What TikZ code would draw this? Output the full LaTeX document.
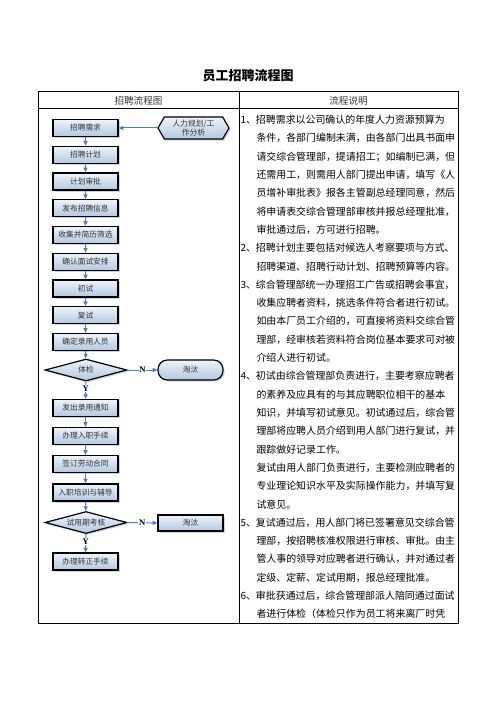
\documentclass[tikz,border=0pt]{standalone}
\usepackage{fontspec}
\setmainfont{Noto Sans CJK SC}
\newfontfamily\ynfont{Liberation Serif}
\usetikzlibrary{shapes.geometric,shapes.symbols,shadows,arrows.meta}
\XeTeXlinebreaklocale "zh"
\XeTeXlinebreakskip=0pt plus 1pt

\definecolor{boxtop}{HTML}{EEF3FA}
\definecolor{boxbot}{HTML}{B3C7E2}
\definecolor{boxshade}{HTML}{C5D0DF}
\definecolor{flowblue}{HTML}{4A7EC6}
\definecolor{txtgray}{HTML}{333333}

\newcommand\spreadline[1]{\makebox[149pt][s]{#1}}

\tikzset{every picture/.style={line width=0.75pt}}
\tikzset{
  flowbox/.style={draw=black, line width=0.9pt, top color=boxtop, bottom color=boxbot,
    minimum width=48.75pt, minimum height=12.75pt, inner sep=0pt, text=txtgray,
    font=\fontsize{5.8pt}{7pt}\selectfont,
    drop shadow={shadow xshift=1.2pt, shadow yshift=-1.2pt, fill=boxshade, opacity=0.9}},
  checkbox/.style={flowbox, shape=diamond, aspect=3.7, minimum width=61.5pt, minimum height=16.5pt},
  hrbox/.style={flowbox, shape=signal, signal to=west and east, signal pointer angle=120,
    minimum width=53.25pt, minimum height=16.5pt, align=center, font=\fontsize{5.8pt}{6.8pt}\selectfont},
  flowarrow/.style={draw=flowblue, line width=0.75pt, -{Triangle[length=3.5pt,width=3pt]}},
  yn/.style={fill=white, inner sep=0.6pt, font=\fontsize{6.5pt}{7pt}\ynfont\bfseries},
  head/.style={font=\fontsize{7.2pt}{9pt}\selectfont, text=txtgray},
  desc/.style={anchor=west, inner sep=0pt, font=\fontsize{7.45pt}{9pt}\selectfont}
}

\begin{document}
\begin{tikzpicture}[x=0.75pt,y=0.75pt,yscale=-1,xscale=1]
\useasboundingbox (0,0) rectangle (496,702);

% Title
\node (title) at (248,76) {\fontsize{9.75pt}{12pt}\selectfont\bfseries 员工招聘流程图};

%Table frame
\draw  (38,92) rectangle (458,623) ;
%Straight Lines
\draw    (38,109) -- (458,109) ;
%Straight Lines
\draw    (239,92) -- (239,623) ;

% Text Node
\node [head] (hflow) at (138.5,100.5) {招聘流程图};
% Text Node
\node [head] (hdesc) at (348.5,100.5) {流程说明};

%Flow boxes
\node [flowbox] (need) at (85.5,128) {招聘需求};
\node [hrbox] (hr) at (193.5,128) {人力规划/工\\作分析};
\node [flowbox] (plan) at (85.5,154.75) {招聘计划};
\node [flowbox] (approve) at (85.5,181.5) {计划审批};
\node [flowbox] (publish) at (85.5,208.25) {发布招聘信息};
\node [flowbox] (screen) at (85.5,235) {收集并简历筛选};
\node [flowbox] (arrange) at (85.5,261.75) {确认面试安排};
\node [flowbox] (first) at (85.5,288.5) {初试};
\node [flowbox] (second) at (85.5,315.25) {复试};
\node [flowbox] (decide) at (85.5,342) {确定录用人员};
\node [checkbox] (exam) at (86,370) {体检};
\node [flowbox, rounded corners=7pt, minimum height=15pt] (out1) at (190.5,370) {淘汰};
\node [flowbox] (notice) at (85.5,408) {发出录用通知};
\node [flowbox] (entry) at (85.5,436) {办理入职手续};
\node [flowbox] (contract) at (85.5,464) {签订劳动合同};
\node [flowbox] (train) at (85.5,492.5) {入职培训与辅导};
\node [checkbox] (trial) at (86,522.5) {试用期考核};
\node [flowbox, minimum height=12pt] (out2) at (190.5,523) {淘汰};
\node [flowbox] (regular) at (85.5,561.5) {办理转正手续};

%Connectors
\draw [flowarrow] (hr.west) -- (need.east) ;
\draw [flowarrow] (need) -- (plan) ;
\draw [flowarrow] (plan) -- (approve) ;
\draw [flowarrow] (approve) -- (publish) ;
\draw [flowarrow] (publish) -- (screen) ;
\draw [flowarrow] (screen) -- (arrange) ;
\draw [flowarrow] (arrange) -- (first) ;
\draw [flowarrow] (first) -- (second) ;
\draw [flowarrow] (second) -- (decide) ;
\draw [flowarrow] (decide) -- (exam) ;
\draw [flowarrow] (exam) -- node [yn] {N} (out1) ;
\draw [flowarrow] (exam) -- node [yn, pos=0.4] {Y} (notice) ;
\draw [flowarrow] (notice) -- (entry) ;
\draw [flowarrow] (entry) -- (contract) ;
\draw [flowarrow] (contract) -- (train) ;
\draw [flowarrow] (train) -- (trial) ;
\draw [flowarrow] (trial) -- node [yn] {N} (out2) ;
\draw [flowarrow] (trial) -- node [yn, pos=0.4] {Y} (regular) ;

% Text Node
\node [desc] (t1) at (240,120) {1、\spreadline{招聘需求以公司确认的年度人力资源预算为}};
\node [desc] (t2) at (256,138.3) {条件，各部门编制未满，由各部门出具书面申};
\node [desc] (t3) at (256,156.6) {请交综合管理部，提请招工；如编制已满，但};
\node [desc] (t4) at (256,174.9) {还需用工，则需用人部门提出申请，填写《人};
\node [desc] (t5) at (256,193.2) {员增补审批表》报各主管副总经理同意，然后};
\node [desc] (t6) at (256,211.5) {将申请表交综合管理部审核并报总经理批准，};
\node [desc] (t7) at (256,229.8) {审批通过后，方可进行招聘。};
\node [desc] (t8) at (240,248.1) {2、招聘计划主要包括对候选人考察要项与方式、};
\node [desc] (t9) at (256,266.4) {招聘渠道、招聘行动计划、招聘预算等内容。};
\node [desc] (t10) at (240,284.7) {3、综合管理部统一办理招工广告或招聘会事宜，};
\node [desc] (t11) at (256,303) {收集应聘者资料，挑选条件符合者进行初试。};
\node [desc] (t12) at (256,321.3) {如由本厂员工介绍的，可直接将资料交综合管};
\node [desc] (t13) at (256,339.6) {理部，经审核若资料符合岗位基本要求可对被};
\node [desc] (t14) at (256,357.9) {介绍人进行初试。};
\node [desc] (t15) at (240,376.2) {4、初试由综合管理部负责进行，主要考察应聘者};
\node [desc] (t16) at (256,394.5) {\spreadline{的素养及应具有的与其应聘职位相干的基本}};
\node [desc] (t17) at (256,412.8) {知识，并填写初试意见。初试通过后，综合管};
\node [desc] (t18) at (256,431.1) {理部将应聘人员介绍到用人部门进行复试，并};
\node [desc] (t19) at (256,449.4) {跟踪做好记录工作。};
\node [desc] (t20) at (256,467.7) {复试由用人部门负责进行，主要检测应聘者的};
\node [desc] (t21) at (256,486) {专业理论知识水平及实际操作能力，并填写复};
\node [desc] (t22) at (256,504.3) {试意见。};
\node [desc] (t23) at (240,522.6) {5、复试通过后，用人部门将已签署意见交综合管};
\node [desc] (t24) at (256,540.9) {理部，按招聘核准权限进行审核、审批。由主};
\node [desc] (t25) at (256,559.2) {管人事的领导对应聘者进行确认，并对通过者};
\node [desc] (t26) at (256,577.5) {定级、定薪、定试用期，报总经理批准。};
\node [desc] (t27) at (240,595.8) {6、审批获通过后，综合管理部派人陪同通过面试};
\node [desc] (t28) at (256,614.1) {\spreadline{者进行体检（体检只作为员工将来离厂时凭}};
\end{tikzpicture}
\end{document}
